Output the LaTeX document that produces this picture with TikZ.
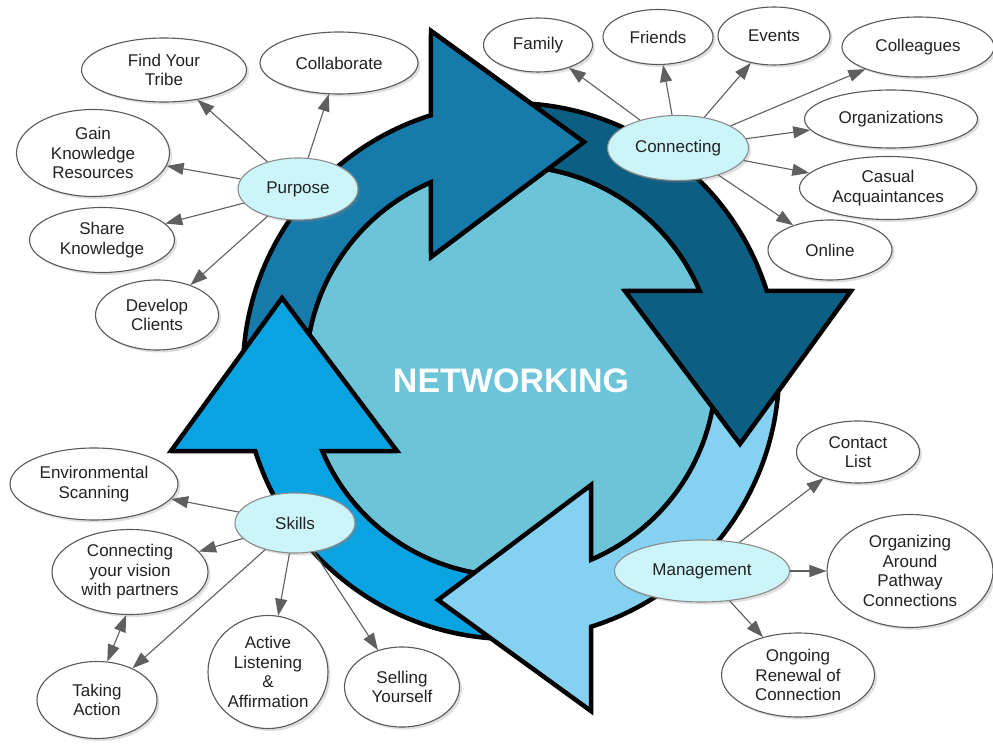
\documentclass[tikz,border=0pt]{standalone}
\usepackage{fontspec}
\setmainfont{Liberation Sans}
\usetikzlibrary{positioning,shapes.geometric,shadows,arrows.meta}
\definecolor{purposeblue}{RGB}{22,123,170}
\definecolor{connectblue}{RGB}{12,94,130}
\definecolor{managelight}{RGB}{132,209,241}
\definecolor{skillsblue}{RGB}{10,163,226}
\definecolor{discblue}{RGB}{107,196,216}
\definecolor{hubfill}{RGB}{204,245,249}
\definecolor{linkgray}{RGB}{95,95,95}
\definecolor{labelgray}{RGB}{34,34,34}
\newcommand{\cyclearrow}[2]{%
  \begin{scope}[shift={(511,374)}, rotate=#1]
    \filldraw[ring, fill=#2] (180:268) arc[start angle=180, end angle=107.4, radius=268]
      -- (-80,340) -- (73,229) -- (-80,114) -- (113:205)
      arc[start angle=113, end angle=180, radius=205] -- cycle;
  \end{scope}}

\begin{document}
\begin{tikzpicture}[x=1pt, y=1pt, on grid,
  ring/.style={draw=black, line width=4.5pt, line join=miter},
  leaf/.style={ellipse, draw=black!65, line width=1.1pt, fill=white, inner sep=0pt,
    align=center, text=labelgray, font=\fontsize{17}{19.5}\selectfont,
    drop shadow={shadow xshift=2.5pt, shadow yshift=-2.5pt, opacity=0.25}},
  hub/.style={leaf, draw=black!45, fill=hubfill},
  link/.style={draw=linkgray, line width=1.1pt, -{Triangle[length=17pt,width=12pt]}},
  both/.style={link, {Triangle[length=17pt,width=12pt]}-{Triangle[length=17pt,width=12pt]}}]
\fill[white] (0,0) rectangle (993,745);
\useasboundingbox (0,0) rectangle (993,745);

% the cycle
\filldraw[ring, fill=discblue] (511,374) circle[radius=205];
\cyclearrow{0}{purposeblue}
\cyclearrow{90}{skillsblue}
\cyclearrow{180}{managelight}
\cyclearrow{-90}{connectblue}
\begin{scope}
  \clip (431,374) rectangle (993,745);
  \cyclearrow{0}{purposeblue}
\end{scope}
\node(title) at (511,364) {\color{white}\fontsize{34}{36}\selectfont\bfseries NETWORKING};

% hubs
\node(purpose)    [hub, minimum width=120pt, minimum height=62pt] at (298,556) {Purpose};
\node(connecting) [hub, minimum width=141pt, minimum height=65pt] at (678,597) {Connecting};
\node(management) [hub, minimum width=175pt, minimum height=62pt] at (702,174) {Management};
\node(skills)     [hub, minimum width=120pt, minimum height=60pt] at (295,222) {Skills};

% purpose
\node(tribe)   [leaf, minimum width=165pt, minimum height=64pt, above left=119pt and 134pt of purpose] {Find Your\\Tribe};
\node(collab)  [leaf, minimum width=158pt, minimum height=62pt, above right=126pt and 41pt of purpose] {Collaborate};
\node(gain)    [leaf, minimum width=153pt, minimum height=87pt, above left=36pt and 205pt of purpose] {Gain\\Knowledge\\Resources};
\node(share)   [leaf, minimum width=145pt, minimum height=65pt, below left=51pt and 196pt of purpose] {Share\\Knowledge};
\node(develop) [leaf, minimum width=123pt, minimum height=70pt, below left=126pt and 141pt of purpose] {Develop\\Clients};

% connecting
\node(family)     [leaf, minimum width=109pt, minimum height=54pt, above left=103pt and 140pt of connecting] {Family};
\node(friends)    [leaf, minimum width=110pt, minimum height=55pt, above left=111pt and 20pt of connecting] {Friends};
\node(events)     [leaf, minimum width=112pt, minimum height=58pt, above right=112pt and 96pt of connecting] {Events};
\node(colleagues) [leaf, minimum width=152pt, minimum height=60pt, above right=101pt and 240pt of connecting] {Colleagues};
\node(orgs)       [leaf, minimum width=173pt, minimum height=58pt, above right=29pt and 213pt of connecting] {Organizations};
\node(casual)     [leaf, minimum width=177pt, minimum height=63pt, below right=40pt and 210pt of connecting] {Casual\\Acquaintances};
\node(online)     [leaf, minimum width=124pt, minimum height=60pt, below right=102pt and 152pt of connecting] {Online};

% management
\node(contact)    [leaf, minimum width=123pt, minimum height=62pt, above right=119pt and 156pt of management] {Contact\\List};
\node(organizing) [leaf, minimum width=166pt, minimum height=113pt, right=208pt of management] {Organizing\\Around\\Pathway\\Connections};
\node(ongoing)    [leaf, minimum width=153pt, minimum height=84pt, below right=104pt and 96pt of management] {Ongoing\\Renewal of\\Connection};

% skills
\node(scanning)  [leaf, minimum width=168pt, minimum height=72pt, above left=39pt and 201pt of skills] {Environmental\\Scanning};
\node(vision)    [leaf, minimum width=156pt, minimum height=85pt, below left=49pt and 165pt of skills] {Connecting\\your vision\\with partners};
\node(action)    [leaf, minimum width=120pt, minimum height=77pt, below left=177pt and 198pt of skills] {Taking\\Action};
\node(listening) [leaf, minimum width=120pt, minimum height=113pt, below left=149pt and 27pt of skills] {Active\\Listening\\\&\\Affirmation};
\node(selling)   [leaf, minimum width=115pt, minimum height=80pt, below right=164pt and 107pt of skills] {Selling\\Yourself};

\draw[link] (purpose) -- (tribe);
\draw[link] (purpose) -- (collab);
\draw[link] (purpose) -- (gain);
\draw[link] (purpose) -- (share);
\draw[link] (purpose) -- (develop);
\draw[link] (connecting) -- (family);
\draw[link] (connecting) -- (friends);
\draw[link] (connecting) -- (events);
\draw[link] (connecting) -- (colleagues);
\draw[link] (connecting) -- (orgs);
\draw[link] (connecting) -- (casual);
\draw[link] (connecting) -- (online);
\draw[link] (management) -- (contact);
\draw[link] (management) -- (organizing);
\draw[link] (management) -- (ongoing);
\draw[link] (skills) -- (scanning);
\draw[link] (skills) -- (vision);
\draw[link] (skills) -- (action);
\draw[link] (skills) -- (listening);
\draw[link] (skills) -- (selling);
\draw[both] (vision.265) -- (action.75);
\end{tikzpicture}
\end{document}
